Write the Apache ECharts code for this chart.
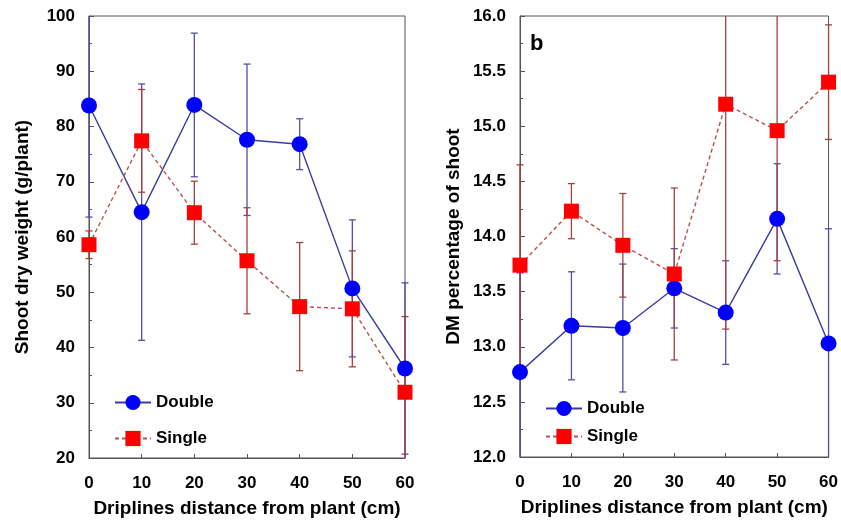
<!DOCTYPE html>
<html>
<head>
<meta charset="utf-8">
<script src="https://cdn.jsdelivr.net/npm/echarts@6/dist/echarts.min.js"></script>
<style>
  html, body { margin: 0; padding: 0; background: #fff; }
  #chart { width: 841px; height: 527px; }
</style>
</head>
<body>
<div id="chart"></div>
<script>
// Dripline distance from plant (cm)
const distances = [0, 10, 20, 30, 40, 50, 60];

// Panel a: shoot dry weight (g/plant), mean and error half-width
const dryDouble    = [83.8, 64.5, 83.9, 77.6, 76.8, 50.7, 36.2];
const dryDoubleErr = [20.2, 23.2, 13.0, 13.7, 4.6, 12.4, 15.5];
const drySingle    = [58.6, 77.4, 64.4, 55.7, 47.4, 47.0, 31.9];
const drySingleErr = [2.5, 9.3, 5.7, 9.6, 11.6, 10.5, 13.7];

// Panel b: DM percentage of shoot, mean and error half-width
const dmDouble    = [12.77, 13.19, 13.17, 13.53, 13.31, 14.16, 13.03];
const dmDoubleErr = [0.90, 0.49, 0.58, 0.36, 0.47, 0.50, 1.04];
const dmSingle    = [13.74, 14.23, 13.92, 13.66, 15.20, 14.96, 15.40];
const dmSingleErr = [0.91, 0.25, 0.47, 0.78, 2.04, 1.18, 0.52];

const BLUE = '#0000ff';
const BLUE_LINE = '#3b3ba6';
const RED = '#ff0000';
const RED_LINE = '#b85050';
const FONT = 'Liberation Sans';

function pairs(vals) {
  return distances.map((d, i) => [d, vals[i]]);
}
function errRows(vals, errs) {
  return distances.map((d, i) => [d, vals[i] - errs[i], vals[i] + errs[i]]);
}
// Vertical error bar with caps, trimmed to the axis range (no cap where trimmed)
function errorBars(color, yMin, yMax) {
  return function (params, api) {
    const x = api.value(0);
    const loV = api.value(1), hiV = api.value(2);
    const lo = api.coord([x, Math.max(loV, yMin)]);
    const hi = api.coord([x, Math.min(hiV, yMax)]);
    const cap = 3.5;
    const style = { stroke: color, lineWidth: 1.3 };
    const children = [
      { type: 'line', shape: { x1: lo[0], y1: lo[1], x2: hi[0], y2: hi[1] }, style }
    ];
    if (hiV <= yMax) children.push({ type: 'line', shape: { x1: hi[0] - cap, y1: hi[1], x2: hi[0] + cap, y2: hi[1] }, style });
    if (loV >= yMin) children.push({ type: 'line', shape: { x1: lo[0] - cap, y1: lo[1], x2: lo[0] + cap, y2: lo[1] }, style });
    return { type: 'group', children };
  };
}

const tickLabel = { color: '#000', fontFamily: FONT, fontWeight: 'bold', fontSize: 17 };
const titleFont = { color: '#000', fontFamily: FONT, fontWeight: 'bold', fontSize: 19 };

function xAxis(gridIndex) {
  return {
    type: 'value', gridIndex, min: 0, max: 60, interval: 10,
    name: 'Driplines distance from plant (cm)',
    nameLocation: 'middle', nameGap: 41, nameTextStyle: titleFont,
    axisLine: { lineStyle: { color: '#555' } },
    axisTick: { inside: true, length: 4, lineStyle: { color: '#555' } },
    axisLabel: Object.assign({ margin: 17 }, tickLabel),
    splitLine: { show: false }
  };
}
function yAxis(gridIndex, min, max, interval, name, fmt) {
  return {
    type: 'value', gridIndex, min, max, interval,
    name, nameLocation: 'middle', nameGap: 57, nameTextStyle: titleFont,
    axisLine: { lineStyle: { color: '#555' } },
    axisTick: { inside: true, length: 5, lineStyle: { color: '#555' } },
    minorTick: { show: true, splitNumber: 2, length: 3, lineStyle: { color: '#555' } },
    axisLabel: Object.assign({ margin: 14, formatter: fmt }, tickLabel),
    splitLine: { show: false }
  };
}

function lineSeries(name, axisIdx, vals, isDouble) {
  return {
    name, type: 'line', xAxisIndex: axisIdx, yAxisIndex: axisIdx,
    data: pairs(vals),
    symbol: isDouble ? 'circle' : 'rect',
    symbolSize: isDouble ? 16 : 15,
    itemStyle: { color: isDouble ? BLUE : RED },
    lineStyle: isDouble
      ? { color: BLUE_LINE, width: 1.4, type: 'solid' }
      : { color: RED_LINE, width: 1.4, type: [4, 3] },
    z: 3
  };
}
function errSeries(name, axisIdx, vals, errs, color, yMin, yMax) {
  return {
    name, type: 'custom', xAxisIndex: axisIdx, yAxisIndex: axisIdx,
    data: errRows(vals, errs), renderItem: errorBars(color, yMin, yMax),
    clip: false, z: 2, silent: true
  };
}

const legendText = { color: '#000', fontFamily: FONT, fontWeight: 'bold', fontSize: 17 };

const option = {
  backgroundColor: '#fff',
  animation: false,
  grid: [
    { left: 89, top: 16, width: 316, height: 442, show: true, borderColor: '#555', borderWidth: 1 },
    { left: 520, top: 16, width: 310, height: 441, show: true, borderColor: '#555', borderWidth: 1 }
  ],
  xAxis: [xAxis(0), xAxis(1)],
  yAxis: [
    yAxis(0, 20, 100, 10, 'Shoot dry weight (g/plant)', v => String(v)),
    yAxis(1, 12, 16, 0.5, 'DM percentage of shoot', v => v.toFixed(1))
  ],
  legend: [
    {
      data: ['Double', 'Single'], orient: 'vertical', left: 109, top: 389,
      itemWidth: 36, itemHeight: 19, itemGap: 19, textStyle: legendText
    },
    {
      data: ['Double', 'Single'], orient: 'vertical', left: 540, top: 395,
      itemWidth: 36, itemHeight: 19, itemGap: 11, textStyle: legendText
    }
  ],
  graphic: [
    { type: 'text', left: 530, top: 33, style: { text: 'b', fill: '#000', font: 'bold 22px "Liberation Sans"' } }
  ],
  series: [
    lineSeries('Double', 0, dryDouble, true),
    lineSeries('Single', 0, drySingle, false),
    lineSeries('Double', 1, dmDouble, true),
    lineSeries('Single', 1, dmSingle, false),
    errSeries('Double', 0, dryDouble, dryDoubleErr, '#5050a8', 20, 100),
    errSeries('Single', 0, drySingle, drySingleErr, '#a84040', 20, 100),
    errSeries('Double', 1, dmDouble, dmDoubleErr, '#5050a8', 12, 16),
    errSeries('Single', 1, dmSingle, dmSingleErr, '#a84040', 12, 16)
  ]
};

const chart = echarts.init(document.getElementById('chart'), null, { renderer: 'canvas' });
chart.setOption(option);
</script>
</body>
</html>
